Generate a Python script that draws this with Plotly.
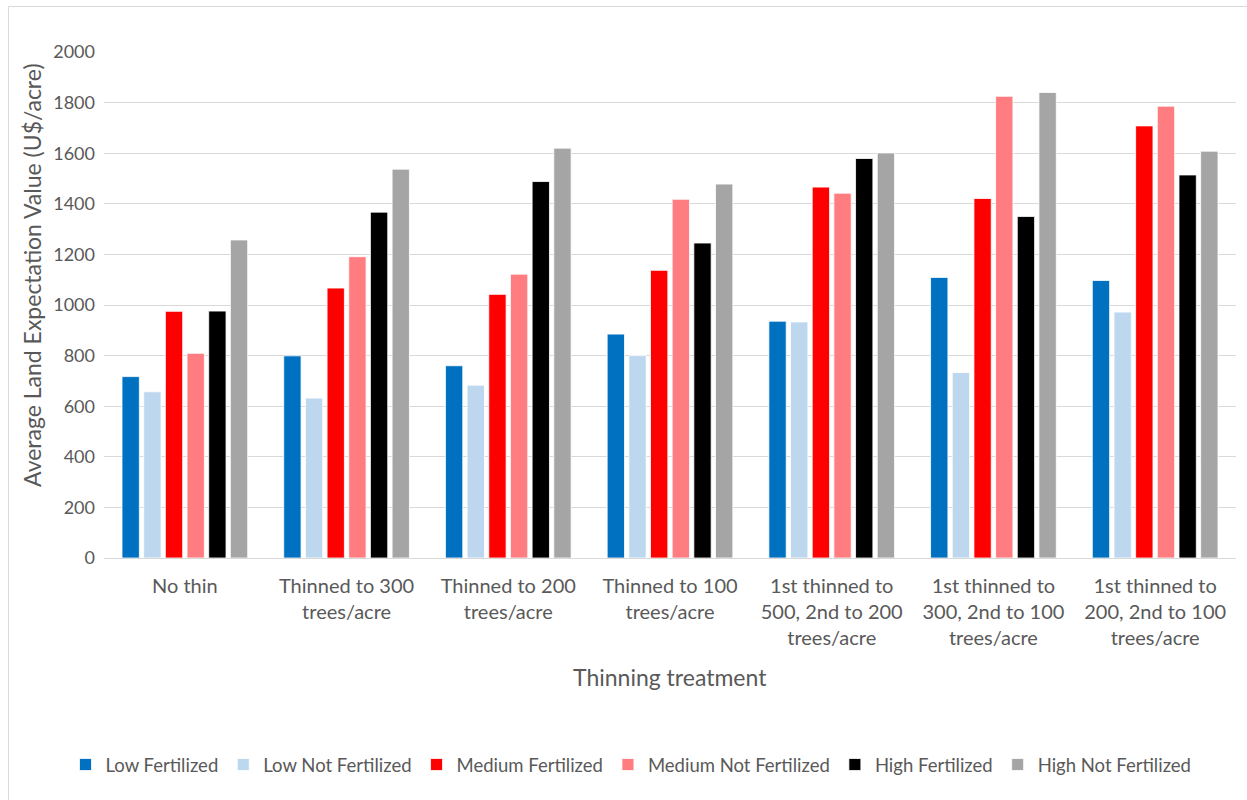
import plotly.graph_objects as go

categories = [
    "No thin",
    "Thinned to 300<br>trees/acre",
    "Thinned to 200<br>trees/acre",
    "Thinned to 100<br>trees/acre",
    "1st thinned to<br>500, 2nd to 200<br>trees/acre",
    "1st thinned to<br>300, 2nd to 100<br>trees/acre",
    "1st thinned to<br>200, 2nd to 100<br>trees/acre",
]

low_fertilized = [717, 799, 760, 885, 936, 1109, 1097]
low_not_fertilized = [657, 632, 683, 800, 933, 733, 972]
medium_fertilized = [975, 1067, 1042, 1137, 1466, 1421, 1708]
medium_not_fertilized = [809, 1191, 1122, 1418, 1442, 1825, 1786]
high_fertilized = [976, 1367, 1488, 1245, 1579, 1350, 1514]
high_not_fertilized = [1257, 1537, 1620, 1478, 1601, 1840, 1608]

series = [
    ("Low Fertilized", low_fertilized, "#0070C0"),
    ("Low Not Fertilized", low_not_fertilized, "#BDD7EE"),
    ("Medium Fertilized", medium_fertilized, "#FF0000"),
    ("Medium Not Fertilized", medium_not_fertilized, "#FF7C80"),
    ("High Fertilized", high_fertilized, "#000000"),
    ("High Not Fertilized", high_not_fertilized, "#A5A5A5"),
]

FONT = "Lato"
TEXT = "#595959"

fig = go.Figure()
for name, vals, color in series:
    fig.add_trace(go.Bar(
        name=name, x=categories, y=vals,
        marker=dict(color=color, line=dict(color="white", width=0.8)),
    ))

W, H = 1247, 800
L, R, T, B = 104, 11, 52, 242
pw, ph = W - L - R, H - T - B

def px_x(p):
    return (p - L) / pw

def px_y(p):
    return (H - B - p) / ph

fig.update_layout(
    width=W, height=H,
    margin=dict(l=L, r=R, t=T, b=B, pad=0, autoexpand=False),
    paper_bgcolor="white", plot_bgcolor="white",
    barmode="group", bargap=0.196, bargroupgap=0.2,
    font=dict(family=FONT, color=TEXT, size=18),
    showlegend=True,
    legend=dict(
        orientation="h", x=px_x(631), xanchor="center", y=px_y(765), yanchor="middle",
        font=dict(family=FONT, size=18.5, color=TEXT),
        itemwidth=30, traceorder="normal",
    ),
    xaxis=dict(
        showgrid=False, showline=True, linecolor="#D9D9D9", linewidth=1,
        ticks="", tickfont=dict(family=FONT, size=20, color=TEXT),
        ticklabelstandoff=10, automargin=False,
    ),
    yaxis=dict(
        range=[0, 2000], dtick=200, showgrid=True, gridcolor="#D9D9D9", gridwidth=1,
        zeroline=False, showline=False, ticks="",
        tickfont=dict(family=FONT, size=18, color=TEXT), ticklabelstandoff=8,
        automargin=False,
    ),
    annotations=[
        dict(
            text="Average Land Expectation Value (U$/acre)", textangle=-90,
            xref="paper", yref="paper", x=px_x(32), y=px_y(275),
            xanchor="center", yanchor="middle", showarrow=False,
            font=dict(family=FONT, size=23, color=TEXT),
        ),
        dict(
            text="Thinning treatment",
            xref="paper", yref="paper", x=px_x(670), y=px_y(677),
            xanchor="center", yanchor="middle", showarrow=False,
            font=dict(family=FONT, size=23, color=TEXT),
        ),
    ],
    shapes=[dict(
        type="rect", xref="paper", yref="paper",
        x0=px_x(8.5), x1=px_x(1260), y0=px_y(6.5), y1=px_y(820),
        line=dict(color="#D9D9D9", width=1), fillcolor="rgba(0,0,0,0)", layer="below",
    )],
)

fig.write_html("out.html")
